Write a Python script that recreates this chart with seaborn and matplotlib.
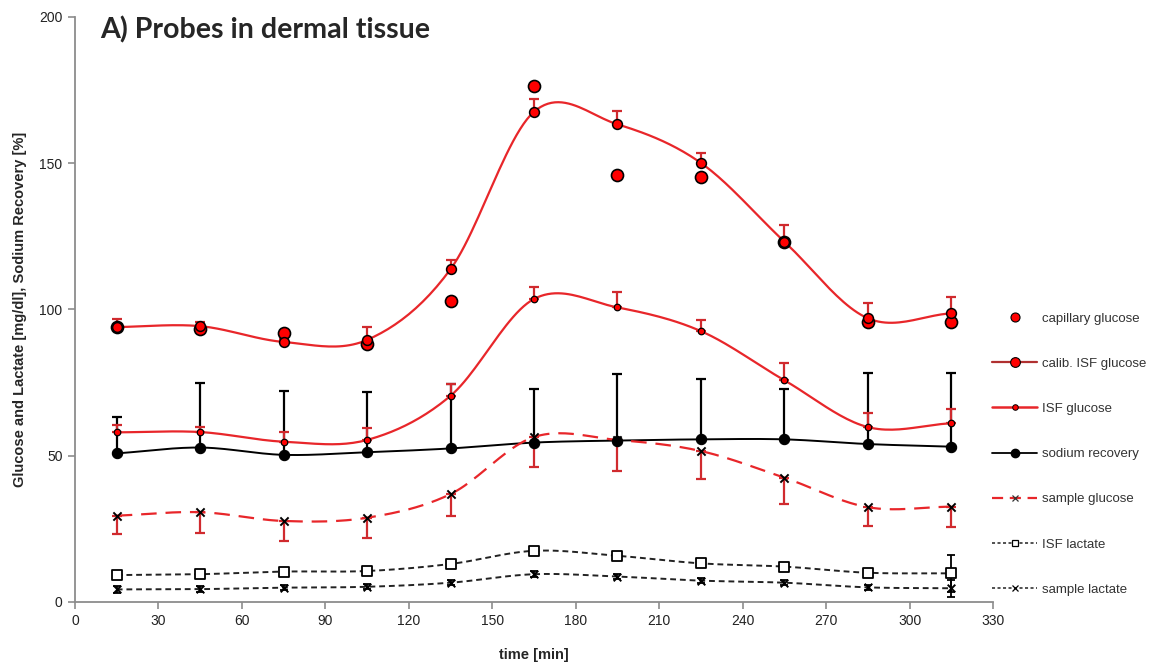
import numpy as np
import matplotlib
matplotlib.use("Agg")
import matplotlib.pyplot as plt
from matplotlib.lines import Line2D
import seaborn as sns

sns.set_theme(style="white")
plt.rcParams["font.family"] = ["Liberation Sans", "DejaVu Sans"]

# sampling times [min]
time_min = [15, 45, 75, 105, 135, 165, 195, 225, 255, 285, 315]

capillary_glucose = [94.0, 93.5, 92.0, 88.2, 103.0, 176.4, 146.0, 145.2, 123.0, 95.8, 95.8]

calib_isf_glucose = [94.0, 94.3, 88.9, 89.6, 113.8, 167.6, 163.3, 150.1, 123.2, 97.0, 98.7]
calib_isf_glucose_err = [2.6, 1.5, 1.0, 4.5, 3.0, 4.2, 4.7, 3.5, 5.6, 5.1, 5.5]

isf_glucose = [58.0, 58.1, 54.8, 55.4, 70.5, 103.6, 100.7, 92.6, 75.8, 59.8, 61.1]
isf_glucose_err = [2.6, 1.8, 3.4, 4.2, 3.9, 4.2, 5.2, 3.7, 6.0, 4.9, 4.9]

sodium_recovery = [50.8, 52.8, 50.3, 51.2, 52.5, 54.5, 55.2, 55.6, 55.6, 54.0, 53.1]
sodium_recovery_err = [12.6, 22.0, 22.0, 20.5, 22.0, 18.3, 22.8, 20.7, 17.2, 24.4, 25.3]

sample_glucose = [29.5, 30.7, 27.7, 28.8, 36.9, 56.4, 55.4, 51.6, 42.5, 32.4, 32.6]
sample_glucose_err = [6.3, 7.2, 6.7, 6.8, 7.4, 10.4, 10.5, 9.4, 9.1, 6.3, 6.8]

isf_lactate = [9.2, 9.5, 10.4, 10.6, 13.0, 17.5, 15.8, 13.2, 12.1, 10.0, 9.8]
isf_lactate_err = [1.0, 0.8, 0.8, 0.8, 1.0, 1.0, 1.0, 0.8, 0.8, 0.8, 6.3]

sample_lactate = [4.3, 4.4, 4.9, 5.2, 6.6, 9.5, 8.7, 7.3, 6.6, 5.0, 4.7]
sample_lactate_err = [1.2, 1.0, 0.8, 0.8, 0.8, 1.0, 0.8, 0.8, 0.8, 0.8, 2.9]

RED = "#e8262a"
ERR_RED = "#d02a2e"


def smooth(x, y, n=24):
    """Catmull-Rom curve through the points (smoothed line style)."""
    x = np.asarray(x, float)
    y = np.asarray(y, float)
    px = np.concatenate([[2 * x[0] - x[1]], x, [2 * x[-1] - x[-2]]])
    py = np.concatenate([[2 * y[0] - y[1]], y, [2 * y[-1] - y[-2]]])
    xs, ys = [], []
    t = np.linspace(0, 1, n, endpoint=False)
    for i in range(1, len(px) - 2):
        for arr, out in ((px, xs), (py, ys)):
            p0, p1, p2, p3 = arr[i - 1], arr[i], arr[i + 1], arr[i + 2]
            m1 = (p2 - p0) / 2
            m2 = (p3 - p1) / 2
            h00 = 2 * t**3 - 3 * t**2 + 1
            h10 = t**3 - 2 * t**2 + t
            h01 = -2 * t**3 + 3 * t**2
            h11 = t**3 - t**2
            out.extend(h00 * p1 + h10 * m1 + h01 * p2 + h11 * m2)
    xs.append(x[-1])
    ys.append(y[-1])
    return np.array(xs), np.array(ys)


fig = plt.figure(figsize=(11.59, 6.66), dpi=100)
ax = fig.add_axes([0.0647, 0.0961, 0.7921, 0.8784])

# error bars: one-sided where the series shows it that way
zeros = [0] * len(time_min)
ax.errorbar(time_min, sodium_recovery, yerr=[zeros, sodium_recovery_err], fmt="none",
            ecolor="black", elinewidth=1.6, capsize=3.5, capthick=1.6, zorder=2)
ax.errorbar(time_min, calib_isf_glucose, yerr=[zeros, calib_isf_glucose_err], fmt="none",
            ecolor=ERR_RED, elinewidth=1.6, capsize=3.5, capthick=1.6, zorder=2)
ax.errorbar(time_min, isf_glucose, yerr=[zeros, isf_glucose_err], fmt="none",
            ecolor=ERR_RED, elinewidth=1.6, capsize=3.5, capthick=1.6, zorder=2)
ax.errorbar(time_min, sample_glucose, yerr=[sample_glucose_err, zeros], fmt="none",
            ecolor=ERR_RED, elinewidth=1.6, capsize=3.5, capthick=1.6, zorder=2)
ax.errorbar(time_min, isf_lactate, yerr=isf_lactate_err, fmt="none",
            ecolor="black", elinewidth=1.3, capsize=3, capthick=1.3, zorder=2)
ax.errorbar(time_min, sample_lactate, yerr=sample_lactate_err, fmt="none",
            ecolor="black", elinewidth=1.3, capsize=3, capthick=1.3, zorder=2)

# smoothed connecting lines
for vals, color, ls, lw in [
    (calib_isf_glucose, RED, "-", 1.6),
    (isf_glucose, RED, "-", 1.6),
    (sodium_recovery, "black", "-", 1.4),
    (sample_glucose, RED, (0, (7, 4)), 1.6),
    (isf_lactate, "#222222", (0, (3, 2)), 1.4),
    (sample_lactate, "#222222", (0, (3, 2)), 1.4),
]:
    sx, sy = smooth(time_min, vals)
    sns.lineplot(x=sx, y=sy, ax=ax, color=color, linestyle=ls, linewidth=lw,
                 sort=False, estimator=None, zorder=3)

# markers
sns.scatterplot(x=time_min, y=capillary_glucose, ax=ax, s=75, color="#ff0000",
                edgecolor="black", linewidth=1.2, zorder=5)
sns.scatterplot(x=time_min, y=calib_isf_glucose, ax=ax, s=50, color="#ff0000",
                edgecolor="black", linewidth=1.1, zorder=5)
sns.scatterplot(x=time_min, y=isf_glucose, ax=ax, s=22, color="#ff0000",
                edgecolor="black", linewidth=0.9, zorder=5)
sns.scatterplot(x=time_min, y=sodium_recovery, ax=ax, s=55, color="black",
                edgecolor="black", linewidth=0.8, zorder=5)
sns.scatterplot(x=time_min, y=sample_glucose, ax=ax, s=35, marker="x", color="black",
                linewidth=1.4, zorder=5)
sns.scatterplot(x=time_min, y=isf_lactate, ax=ax, s=48, marker="s", color="white",
                edgecolor="black", linewidth=1.3, zorder=5)
sns.scatterplot(x=time_min, y=sample_lactate, ax=ax, s=30, marker="x", color="black",
                linewidth=1.4, zorder=5)

ax.set_xlim(0, 330)
ax.set_ylim(0, 200)
ax.set_xticks(np.arange(0, 331, 30))
ax.set_yticks([0, 50, 100, 150, 200])
for side in ("top", "right"):
    ax.spines[side].set_visible(False)
for side in ("left", "bottom"):
    ax.spines[side].set_color("#8c8c8c")
    ax.spines[side].set_linewidth(1.3)
ax.tick_params(axis="both", which="major", direction="out", length=5, width=1.2,
               color="#8c8c8c", labelsize=10, labelcolor="#222222", pad=4,
               left=True, bottom=True)
ax.set_xlabel("time [min]", fontsize=10.5, fontweight="bold", labelpad=14)
ax.set_ylabel("Glucose and Lactate [mg/dl], Sodium Recovery [%]", fontsize=10.5,
              fontweight="bold", labelpad=9)

ax.text(0.027, 0.978, "A) Probes in dermal tissue", transform=ax.transAxes,
        fontsize=20.6, fontweight="bold", family=["Lato", "DejaVu Sans"],
        ha="left", va="center")

handles = [
    Line2D([], [], linestyle="none", marker="o", markersize=6.5,
           markerfacecolor="#ff0000", markeredgecolor="black", markeredgewidth=0.8),
    Line2D([], [], color="#b03030", linewidth=1.6, marker="o", markersize=7,
           markerfacecolor="#ff0000", markeredgecolor="black", markeredgewidth=0.8),
    Line2D([], [], color=RED, linewidth=1.8, marker="o", markersize=4,
           markerfacecolor="#ff0000", markeredgecolor="black", markeredgewidth=0.7),
    Line2D([], [], color="black", linewidth=1.3, marker="o", markersize=6,
           markerfacecolor="black", markeredgecolor="black"),
    Line2D([], [], color=RED, linewidth=1.6, linestyle=(0, (5, 3)), marker="x",
           markersize=5, markeredgecolor="#333333", markeredgewidth=0.9),
    Line2D([], [], color="#222222", linewidth=1.1, linestyle=(0, (2, 1.6)), marker="s",
           markersize=5, markerfacecolor="white", markeredgecolor="black", markeredgewidth=0.9),
    Line2D([], [], color="#222222", linewidth=1.1, linestyle=(0, (2, 1.6)), marker="x",
           markersize=5, markeredgecolor="black", markeredgewidth=0.9),
]
labels = ["capillary glucose", "calib. ISF glucose", "ISF glucose", "sodium recovery",
          "sample glucose", "ISF lactate", "sample lactate"]
fig.legend(handles, labels, loc="upper left", bbox_to_anchor=(0.856, 0.531),
           frameon=False, fontsize=9.5, handlelength=3.4, handletextpad=0.35,
           labelspacing=2.5, borderpad=0, borderaxespad=0, labelcolor="#333333")

fig.savefig("out.png", dpi=100)
